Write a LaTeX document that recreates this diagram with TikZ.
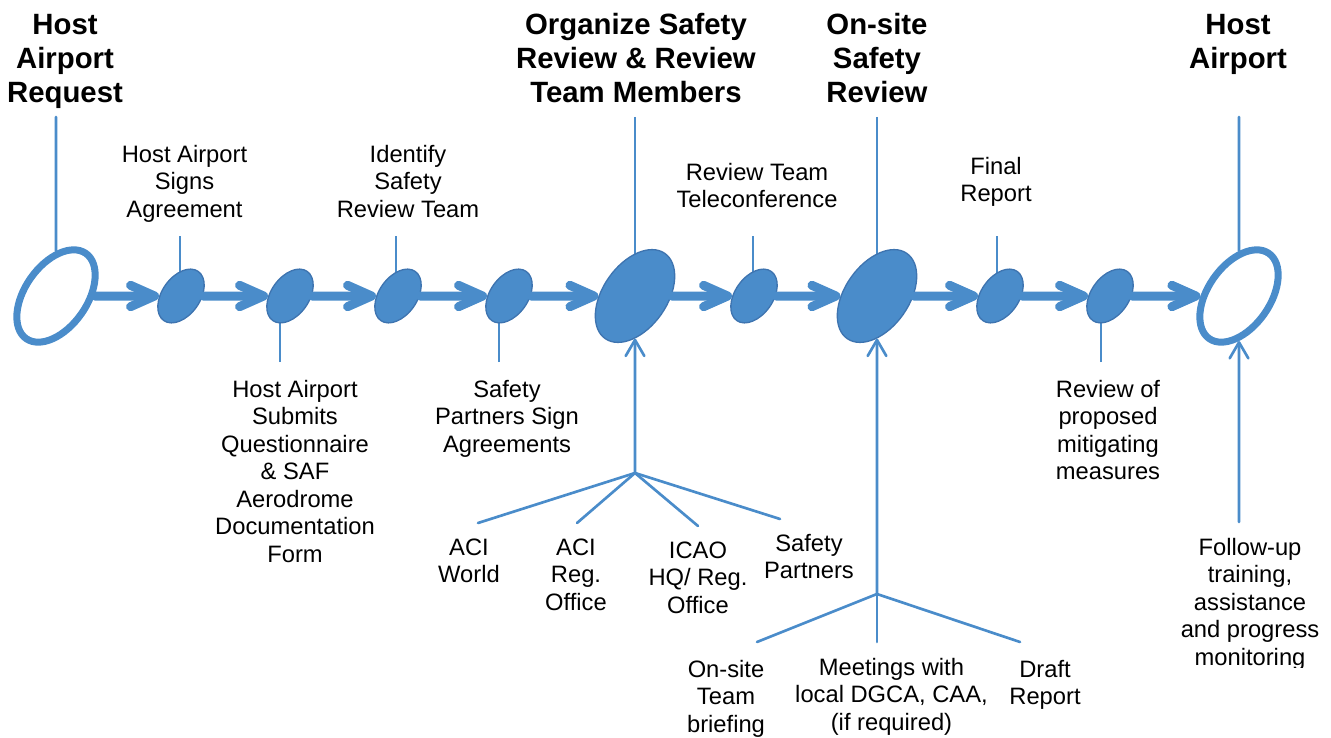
\documentclass[tikz,border=0pt]{standalone}
\usepackage{fontspec}
\setmainfont{Liberation Sans}
\usetikzlibrary{shapes.geometric,arrows.meta,backgrounds}
\definecolor{flowblue}{RGB}{74,140,202}
\definecolor{flowedge}{RGB}{62,116,176}
\tikzset{
  lbl/.style={font=\fontsize{17.8}{20.6}\selectfont, align=center, inner sep=0pt, anchor=base},
  ttl/.style={font=\fontsize{22}{25.5}\selectfont\bfseries, align=center, inner sep=0pt, anchor=base},
  smallev/.style={ellipse, fill=flowblue, draw=flowedge, line width=1pt, inner sep=0pt,
    minimum width=45pt, minimum height=28.5pt, rotate=55},
  bigev/.style={smallev, minimum width=78pt, minimum height=48pt},
  ringev/.style={ellipse, draw=flowblue, line width=5.25pt, inner sep=0pt,
    minimum width=78pt, minimum height=46.5pt, rotate=55},
  flow/.style={draw=flowblue, line width=6.75pt, -{Straight Barb[length=18pt,width=16pt,round]}},
  stem/.style={draw=flowblue, line width=2pt},
  feed/.style={stem, -{Straight Barb[length=12pt,width=14pt,round]}}
}
\begin{document}
\begin{tikzpicture}[x=0.75pt, y=-0.75pt, line join=round, line cap=round]
\useasboundingbox (0,0) rectangle (1331,738);
% events on the main line
\node[ringev] (e1) at (56,296) {};
\node[smallev] (e2) at (181,296) {};
\node[smallev] (e3) at (290,296) {};
\node[smallev] (e4) at (398,296) {};
\node[smallev] (e5) at (509,296) {};
\node[bigev] (e6) at (635,296) {};
\node[smallev] (e7) at (754,296) {};
\node[bigev] (e8) at (877,296) {};
\node[smallev] (e9) at (1000,296) {};
\node[smallev] (e10) at (1110,296) {};
\node[ringev] (e11) at (1239,296) {};
\foreach \a/\b in {e1/e2,e2/e3,e3/e4,e4/e5,e5/e6,e6/e7,e7/e8,e8/e9,e9/e10,e10/e11}
  \draw[flow] (\a) -- (\b);
% labels above (base = last line)
\node[ttl] (t1) at (65,103) {Host\\Airport\\Request};
\node[lbl] (s2) at (184.5,217) {Host Airport\\Signs\\Agreement};
\node[lbl] (s4) at (408,217) {Identify\\Safety\\Review Team};
\node[ttl] (t6) at (636,103) {Organize Safety\\Review \& Review\\Team Members};
\node[lbl] (s7) at (757,207.5) {Review Team\\Teleconference};
\node[ttl] (t8) at (877,103) {On-site\\Safety\\Review};
\node[lbl] (s9) at (996,201.5) {Final\\Report};
\node[ttl] (t11) at (1238,69) {Host\\Airport};
% labels below
\node[lbl] (s3) at (295,562) {Host Airport\\Submits\\Questionnaire\\\& SAF\\Aerodrome\\Documentation\\Form};
\node[lbl] (s5) at (507,452) {Safety\\Partners Sign\\Agreements};
\node[lbl] (s10) at (1108,479.5) {Review of\\proposed\\mitigating\\measures};
\node[lbl] (r1) at (469,582.5) {ACI\\World};
\node[lbl] (r2) at (576,610) {ACI\\Reg.\\Office};
\node[lbl] (r3) at (698,613) {ICAO\\HQ/ Reg.\\Office};
\node[lbl] (r4) at (809,578.5) {Safety\\Partners};
\node[lbl] (q1) at (726,732) {On-site\\Team\\briefing};
\node[lbl] (q2) at (891.5,730) {Meetings with\\local DGCA, CAA,\\(if required)};
\node[lbl] (q3) at (1045,704.5) {Draft\\Report};
\begin{scope}
  \clip (1150,500) rectangle (1331,667);
  \node[lbl] (f11) at (1250,665) {Follow-up\\training,\\assistance\\and progress\\monitoring};
\end{scope}
% stems
\coordinate (up1) at (56,117);
\coordinate (up2) at (180,236);
\coordinate (dn3) at (280,362);
\coordinate (up4) at (396,236);
\coordinate (dn5) at (499,362);
\coordinate (up6) at (635,117);
\coordinate (up7) at (753,236);
\coordinate (up8) at (877,117);
\coordinate (up9) at (997,236);
\coordinate (dn10) at (1101,362);
\coordinate (up11) at (1239,117);
\draw[stem] (up1) -- (e1);
\draw[stem] (up11) -- (e11);
\begin{pgfonlayer}{background}
  \foreach \c/\e in {up2/e2,dn3/e3,up4/e4,dn5/e5,up6/e6,up7/e7,up8/e8,up9/e9,dn10/e10}
    \draw[stem] (\c) -- (\c |- \e);
\end{pgfonlayer}
% partner fans
\coordinate (hub6) at (635,473);
\coordinate (hub8) at (877,594);
\coordinate (hub11) at (1239,522);
\coordinate (r1top) at (478,523);
\coordinate (r2top) at (577,523);
\coordinate (r3top) at (698,526);
\coordinate (r4top) at (780,519);
\coordinate (q1top) at (757,642);
\coordinate (q2top) at (877,642);
\coordinate (q3top) at (1020,642);
\draw[feed] (hub6) -- (e6);
\draw[feed] (hub8) -- (e8);
\draw[feed] (hub11) -- (e11);
\foreach \t in {r1top,r2top,r3top,r4top}
  \draw[stem] (hub6) -- (\t);
\foreach \t in {q1top,q2top,q3top}
  \draw[stem] (hub8) -- (\t);
\end{tikzpicture}
\end{document}
